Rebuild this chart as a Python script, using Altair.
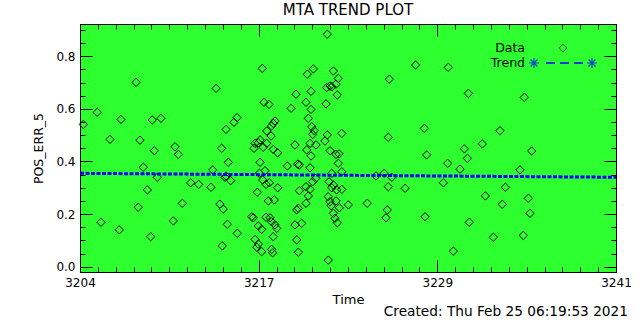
import altair as alt
import pandas as pd

# ---- data ----
time = [3204.23, 3205.19, 3206.07, 3206.83, 3207.87, 3208.14, 3208.99, 3209.59, 3210.56, 3213.39,
        3214.08, 3214.63, 3214.84, 3213.78, 3209.13, 3210.79, 3214.24, 3208.37, 3213.16, 3209.34,
        3214.01, 3214.08, 3214.40, 3211.64, 3212.19, 3208.65, 3213.04, 3211.06, 3213.66, 3213.89,
        3208.02, 3205.45, 3210.44, 3214.17, 3206.71, 3214.86, 3208.88, 3213.82,
        3216.58, 3221.07, 3219.69, 3220.11, 3221.49, 3221.83, 3225.35, 3227.17, 3221.03, 3221.38,
        3221.26, 3221.67, 3218.91, 3219.95, 3221.76, 3216.70, 3217.05, 3219.60, 3220.98, 3218.57,
        3219.95, 3219.76, 3217.46, 3217.34, 3217.23, 3220.00, 3216.89, 3220.17, 3227.77, 3217.19,
        3220.06, 3221.07, 3222.07, 3225.28, 3216.43, 3216.08, 3218.84, 3220.91, 3219.88, 3216.31,
        3216.89, 3217.34, 3217.64, 3216.01, 3216.65, 3219.65, 3219.95, 3220.29, 3221.26, 3221.67,
        3221.88, 3227.93, 3216.43, 3218.31, 3219.03, 3219.14, 3219.88, 3221.83, 3216.77, 3216.38,
        3216.61, 3220.27, 3220.06, 3221.38, 3222.07, 3224.43, 3224.99, 3225.52, 3225.28, 3226.44,
        3221.19, 3221.49, 3216.84, 3217.07, 3217.65, 3219.60, 3216.24, 3219.14, 3219.88, 3221.38,
        3221.72, 3222.07, 3217.00, 3217.41, 3219.76, 3219.60, 3221.14, 3221.26, 3221.67, 3221.33,
        3221.90, 3222.52, 3223.83, 3219.07, 3218.96, 3225.21, 3215.85, 3215.96, 3216.84, 3217.12,
        3217.23, 3217.46, 3217.58, 3221.49, 3221.60, 3221.76, 3225.12, 3227.82, 3216.31, 3216.54,
        3218.84, 3219.30, 3217.34, 3216.08, 3216.31, 3216.20, 3216.54, 3218.96, 3217.23, 3217.30,
        3219.07, 3221.14,
        3229.42, 3230.81, 3234.67, 3232.99, 3231.77, 3230.53, 3230.74, 3229.38, 3235.18, 3230.23,
        3234.37, 3229.08, 3233.36, 3231.98, 3234.95, 3233.15, 3235.06, 3230.87, 3232.53, 3234.60,
        3229.77]
pos_err = [0.541, 0.587, 0.484, 0.560, 0.701, 0.481, 0.558, 0.564, 0.456, 0.678,
           0.522, 0.549, 0.567, 0.450, 0.441, 0.427, 0.397, 0.378, 0.368, 0.340,
           0.340, 0.345, 0.327, 0.319, 0.313, 0.292, 0.302, 0.241, 0.238, 0.219,
           0.226, 0.169, 0.174, 0.161, 0.140, 0.127, 0.114, 0.079,
           0.754, 0.884, 0.732, 0.752, 0.744, 0.716, 0.713, 0.767, 0.681, 0.684,
           0.687, 0.694, 0.656, 0.667, 0.653, 0.625, 0.617, 0.625, 0.619, 0.602,
           0.598, 0.564, 0.554, 0.545, 0.535, 0.532, 0.516, 0.517, 0.526, 0.497,
           0.503, 0.501, 0.507, 0.492, 0.482, 0.469, 0.463, 0.478, 0.469, 0.471,
           0.469, 0.446, 0.433, 0.450, 0.454, 0.444, 0.421, 0.463, 0.441, 0.427,
           0.429, 0.425, 0.397, 0.383, 0.390, 0.387, 0.376, 0.393, 0.365, 0.355,
           0.330, 0.336, 0.323, 0.355, 0.361, 0.345, 0.355, 0.340, 0.304, 0.298,
           0.323, 0.311, 0.313, 0.319, 0.300, 0.304, 0.283, 0.289, 0.294, 0.300,
           0.292, 0.294, 0.250, 0.254, 0.269, 0.241, 0.266, 0.247, 0.250, 0.232,
           0.224, 0.235, 0.241, 0.222, 0.216, 0.216, 0.190, 0.186, 0.188, 0.186,
           0.171, 0.159, 0.146, 0.203, 0.184, 0.167, 0.186, 0.190, 0.155, 0.142,
           0.159, 0.165, 0.114, 0.104, 0.086, 0.074, 0.057, 0.102, 0.066, 0.053,
           0.055, 0.025,
           0.758, 0.659, 0.644, 0.517, 0.467, 0.448, 0.412, 0.393, 0.440, 0.371,
           0.368, 0.319, 0.302, 0.269, 0.260, 0.237, 0.203, 0.169, 0.112, 0.119,
           0.059]

trend_time = [3204.0, 3241.0]
trend_val = [0.355, 0.340]

x_range = [3204.0, 3241.0]
y_range = [-0.0202, 0.9228]
x_tick_labels = ["3204", "3217", "3229", "3241"]
x_major = [3204.0, 3204.0 + 37 / 3, 3204.0 + 74 / 3, 3241.0]
x_minor = [3204.0 + k * 37 / 30 for k in range(31)]
y_major = [0.0, 0.2, 0.4, 0.6, 0.8]
y_minor = [round(k * 0.05, 2) for k in range(19)]

title_text = "MTA TREND PLOT"
x_title = "Time"
y_title = "POS_ERR_5"
created_text = "Created: Thu Feb 25 06:19:53 2021"

FONT = "DejaVu Sans"
GREEN = "#2eff2e"
BLUE = "#0000ff"

df = pd.DataFrame({"t": time, "v": pos_err})
trend_df = pd.DataFrame({"t": trend_time, "v": trend_val})

xs = alt.Scale(domain=x_range, nice=False, zero=False)
ys = alt.Scale(domain=y_range, nice=False, zero=False)

label_expr = (
    f"datum.value < 3210 ? '{x_tick_labels[0]}' : "
    f"(datum.value < 3222 ? '{x_tick_labels[1]}' : "
    f"(datum.value < 3235 ? '{x_tick_labels[2]}' : '{x_tick_labels[3]}'))"
)

common = dict(grid=False, domain=False, tickColor="black", tickWidth=1,
              labelFont=FONT, labelColor="black", titleFont=FONT, titleColor="black")

points = alt.Chart(df).mark_point(
    shape="diamond", filled=False, color="black", size=70, strokeWidth=1, opacity=1
).encode(
    x=alt.X("t:Q", scale=xs, axis=alt.Axis(
        orient="bottom", values=x_major, tickSize=12, offset=-12, labelExpr=label_expr,
        labelFontSize=12, labelPadding=5, labelFlush=False, labelOverlap=False,
        title=x_title, titleFontSize=13, titleFontWeight="normal", titlePadding=5, **common)),
    y=alt.Y("v:Q", scale=ys, axis=alt.Axis(
        orient="left", values=y_major, format=".1f", tickSize=12, offset=-12,
        labelFontSize=12, labelPadding=5, labelFlush=False,
        title=y_title, titleFontSize=12.5, titleFontWeight="normal", titlePadding=10, **common)),
)

trend = alt.Chart(trend_df).mark_line(
    color=BLUE, strokeWidth=3, strokeDash=[4, 1.5]
).encode(
    x=alt.X("t:Q", scale=xs, axis=alt.Axis(
        orient="top", values=x_major, tickSize=12, offset=-12, labels=False, title=None, **common)),
    y=alt.Y("v:Q", scale=ys, axis=alt.Axis(
        orient="right", values=y_major, tickSize=12, offset=-12, labels=False, title=None, **common)),
)

minor1 = alt.Chart(trend_df).mark_point(opacity=0).encode(
    x=alt.X("t:Q", scale=xs, axis=alt.Axis(
        orient="bottom", values=x_minor, tickSize=5, offset=-5, labels=False, title=None, **common)),
    y=alt.Y("v:Q", scale=ys, axis=alt.Axis(
        orient="left", values=y_minor, tickSize=5, offset=-5, labels=False, title=None, **common)),
)

minor2 = alt.Chart(trend_df).mark_point(opacity=0).encode(
    x=alt.X("t:Q", scale=xs, axis=alt.Axis(
        orient="top", values=x_minor, tickSize=5, offset=-5, labels=False, title=None, **common)),
    y=alt.Y("v:Q", scale=ys, axis=alt.Axis(
        orient="right", values=y_minor, tickSize=5, offset=-5, labels=False, title=None, **common)),
)

# legend (drawn in pixel space of the plot area)
leg_txt = pd.DataFrame({"label": ["Data", "Trend"], "px": [445, 445], "py": [24, 39]})
legend_text = alt.Chart(leg_txt).mark_text(
    align="right", baseline="middle", font=FONT, fontSize=12.5, color="black"
).encode(x=alt.X("px:Q", scale=None), y=alt.Y("py:Q", scale=None), text="label:N")

legend_diamond = alt.Chart(pd.DataFrame({"px": [483], "py": [24]})).mark_point(
    shape="diamond", filled=False, color="black", size=60, strokeWidth=1
).encode(x=alt.X("px:Q", scale=None), y=alt.Y("py:Q", scale=None))

STAR = "M-1,0L1,0M0,-1L0,1M-0.7,-0.7L0.7,0.7M-0.7,0.7L0.7,-0.7"
legend_stars = alt.Chart(pd.DataFrame({"px": [454, 512], "py": [39, 39]})).mark_point(
    shape=STAR, filled=False, color=BLUE, size=100, strokeWidth=1.2
).encode(x=alt.X("px:Q", scale=None), y=alt.Y("py:Q", scale=None))

legend_line = alt.Chart(pd.DataFrame({"px": [466, 504], "py": [39, 39]})).mark_line(
    color=BLUE, strokeWidth=1.3, strokeDash=[9, 5]
).encode(x=alt.X("px:Q", scale=None), y=alt.Y("py:Q", scale=None))

created = alt.Chart(pd.DataFrame({"label": [created_text]})).mark_text(
    align="right", baseline="middle", font=FONT, fontSize=13.7, color="black"
).encode(x=alt.value(548), y=alt.value(288), text="label:N")

chart = alt.layer(
    points, trend, minor1, minor2,
    legend_text, legend_diamond, legend_line, legend_stars, created
).resolve_axis(x="independent", y="independent").properties(
    width=536, height=248,
    title=alt.TitleParams(title_text, font=FONT, fontSize=15, fontWeight="normal",
                          color="black", anchor="middle", offset=6),
    autosize=alt.AutoSizeParams(type="none"),
    padding={"left": 80, "top": 24, "right": 24, "bottom": 48},
    background="white",
).configure_view(fill=GREEN, stroke="black", strokeWidth=1)

chart.save("out.html", embed_options={"renderer": "svg", "actions": False})
